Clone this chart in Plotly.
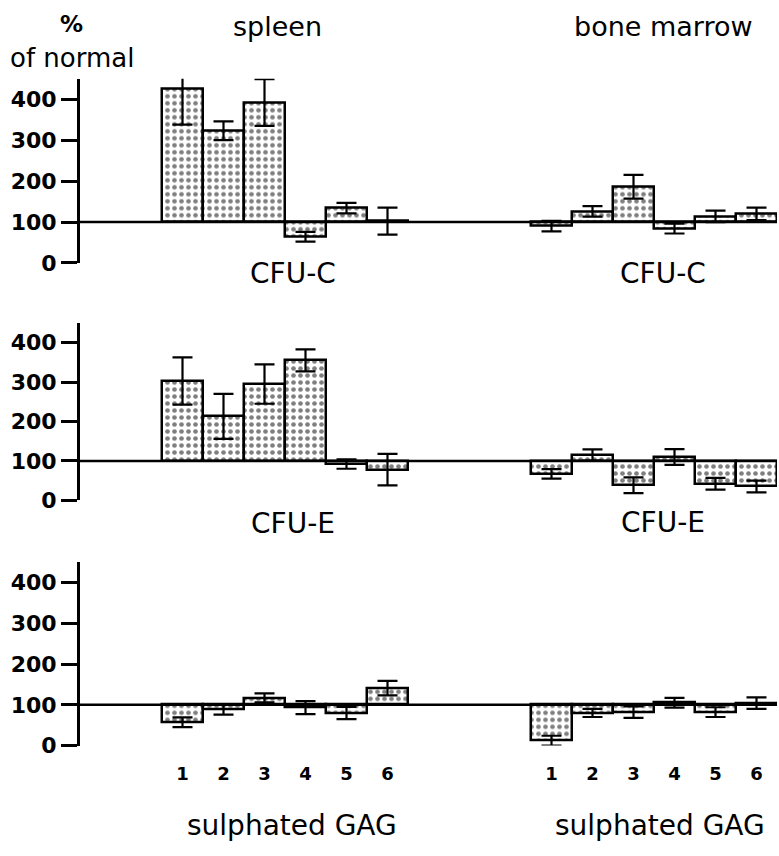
import plotly.graph_objects as go

# Treatment numbers shown under each organ group
conditions = ["1", "2", "3", "4", "5", "6"]
organs = ["spleen", "bone marrow"]
rows = ["CFU-C", "CFU-E", "sulphated GAG"]

# % of normal (mean) and error half-widths, per row and organ
cfuc_spleen = [425, 323, 392, 64, 134, 102]
cfuc_spleen_err = [87, 23, 57, 12, 13, 33]
cfuc_marrow = [90, 126, 186, 84, 114, 120]
cfuc_marrow_err = [13, 13, 29, 12, 14, 15]

cfue_spleen = [303, 213, 295, 355, 92, 78]
cfue_spleen_err = [60, 57, 50, 28, 12, 40]
cfue_marrow = [67, 115, 38, 110, 42, 35]
cfue_marrow_err = [12, 14, 20, 20, 15, 15]

gag_spleen = [57, 88, 117, 93, 80, 141]
gag_spleen_err = [12, 12, 11, 16, 15, 18]
gag_marrow = [12, 80, 82, 105, 82, 104]
gag_marrow_err = [12, 10, 14, 12, 12, 14]

y_ticks = [0, 100, 200, 300, 400]
normal = 100

W, H = 779, 856
FONT = "DejaVu Sans"

panel_data = [
    (cfuc_spleen, cfuc_spleen_err, cfuc_marrow, cfuc_marrow_err),
    (cfue_spleen, cfue_spleen_err, cfue_marrow, cfue_marrow_err),
    (gag_spleen, gag_spleen_err, gag_marrow, gag_marrow_err),
]

# vertical extent of each panel in pixels (top, bottom)
panel_px = [(80, 267), (328, 508), (571, 757)]
x_left_px, x_right_px = 80, 777

# x positions: organ groups side by side with a gap
offsets = [0, 9]
xpos = [[i + 1 + off for i in range(len(conditions))] for off in offsets]

fig = go.Figure()

pattern = dict(shape=".", fgcolor="black", bgcolor="white", size=7, solidity=0.35)

for r, data in enumerate(panel_data):
    xa = "x" if r == 0 else f"x{r + 1}"
    ya = "y" if r == 0 else f"y{r + 1}"
    groups = [(data[0], data[1]), (data[2], data[3])]
    for g, (vals, errs) in enumerate(groups):
        fig.add_trace(go.Bar(
            x=xpos[g], y=[v - normal for v in vals], base=normal,
            width=1.0, xaxis=xa, yaxis=ya,
            marker=dict(color="white", line=dict(color="black", width=2.5),
                        pattern=pattern),
            showlegend=False, name=organs[g],
        ))
    for g, (vals, errs) in enumerate(groups):
        fig.add_trace(go.Scatter(
            x=xpos[g], y=vals, mode="markers", xaxis=xa, yaxis=ya,
            marker=dict(size=1, color="rgba(0,0,0,0)"),
            error_y=dict(type="data", array=errs, visible=True,
                         color="black", thickness=2.2, width=10),
            cliponaxis=False, showlegend=False, name=organs[g],
        ))
    # line marking normal level across the whole panel
    fig.add_shape(type="line", xref="paper", yref=ya,
                  x0=x_left_px / W, x1=x_right_px / W, y0=normal, y1=normal,
                  line=dict(color="black", width=2.5))

layout = dict(
    width=W, height=H,
    margin=dict(l=0, r=0, t=0, b=0),
    paper_bgcolor="white", plot_bgcolor="white",
    bargap=0, font=dict(family=FONT, color="black"),
)

for r, (top, bot) in enumerate(panel_px):
    xk = "xaxis" if r == 0 else f"xaxis{r + 1}"
    yk = "yaxis" if r == 0 else f"yaxis{r + 1}"
    ya = "y" if r == 0 else f"y{r + 1}"
    xa = "x" if r == 0 else f"x{r + 1}"
    last = r == len(panel_px) - 1
    layout[xk] = dict(
        domain=[x_left_px / W, x_right_px / W], range=[-1.5, 15.5],
        anchor=ya, showline=False, showgrid=False, zeroline=False,
        ticks="", showticklabels=last,
        tickvals=xpos[0] + xpos[1] if last else None,
        ticktext=conditions + conditions if last else None,
        tickfont=dict(family=FONT, size=18, weight="bold"), ticklabelstandoff=15,
    )
    layout[yk] = dict(
        domain=[1 - bot / H, 1 - top / H], range=[0, 450], anchor=xa,
        showline=True, linewidth=3, linecolor="black",
        showgrid=False, zeroline=False,
        ticks="outside", ticklen=16, tickwidth=2.5, tickcolor="black",
        tickvals=y_ticks, tickfont=dict(family=FONT, size=22, weight="bold"),
    )

fig.update_layout(**layout)

def label(text, px, py, size, anchor="center", weight="normal"):
    fig.add_annotation(text=text, x=px / W, y=1 - py / H, xref="paper", yref="paper",
                       showarrow=False, xanchor=anchor, yanchor="middle",
                       font=dict(family=FONT, size=size, color="black", weight=weight))

label("%", 71, 24, 23, weight="bold")
label("of normal", 8, 59, 26, anchor="left")
label(organs[0], 277, 27, 27)
label(organs[1], 663, 27, 27)
label(rows[0], 293, 278, 28)
label(rows[0], 663, 278, 28)
label(rows[1], 293, 532, 28)
label(rows[1], 663, 531, 28)
label(rows[2], 292, 838, 28)
label(rows[2], 660, 838, 28)

fig.write_html("out.html")
